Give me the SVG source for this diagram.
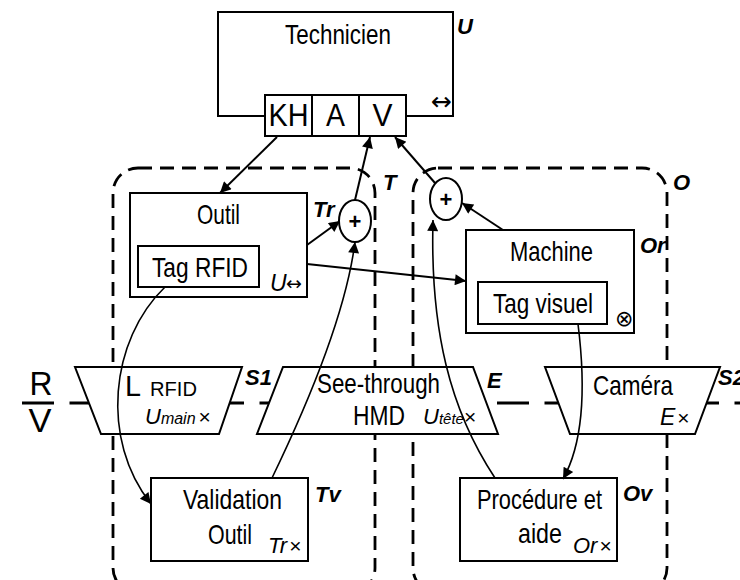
<svg xmlns="http://www.w3.org/2000/svg" width="740" height="580" viewBox="0 0 740 580">
<defs>
<marker id="ah" viewBox="0 0 10 10" refX="10" refY="5" markerWidth="16" markerHeight="11" markerUnits="userSpaceOnUse" orient="auto"><path d="M0,0 L10,5 L0,10 z" fill="#000"/></marker>
<style>
.box{fill:#fff;stroke:#000;stroke-width:2}
.dash{fill:none;stroke:#000;stroke-width:2.8;stroke-dasharray:14 8}
.hd{fill:none;stroke:#000;stroke-width:2.8;stroke-dasharray:32 15.5}
.con{fill:none;stroke:#000;stroke-width:2;marker-end:url(#ah)}
.cur{fill:none;stroke:#000;stroke-width:1.6;marker-end:url(#ah)}
.t{font-family:"Liberation Sans",Arial,sans-serif;font-size:28px;fill:#000}
.c{text-anchor:middle}
.bi{font-family:"Liberation Sans",Arial,sans-serif;font-size:22px;font-weight:bold;font-style:italic;fill:#000}
.it{font-family:"Liberation Sans",Arial,sans-serif;font-style:italic;fill:#000}
.sym{font-family:"DejaVu Sans",sans-serif;fill:#000}
</style>
</defs>
<rect width="740" height="580" fill="#fff"/>
<g id="regions">
<rect class="dash" x="113" y="168" width="262" height="425" rx="25"/>
<rect class="dash" x="413" y="168" width="254" height="425" rx="25"/>
<line class="hd" x1="22" y1="403" x2="740" y2="403"/>
</g>
<g id="technicien">
<path d="M265,116 H218 V12 H453 V116 H406" fill="none" stroke="#000" stroke-width="2"/>
<rect class="box" x="265" y="95" width="141" height="41"/>
<line x1="312" y1="95" x2="312" y2="136" stroke="#000" stroke-width="2"/>
<line x1="359" y1="95" x2="359" y2="136" stroke="#000" stroke-width="2"/>
<text class="t c" x="338" y="44" textLength="106" lengthAdjust="spacingAndGlyphs">Technicien</text>
<text class="t c" x="288.5" y="126" style="font-size:31px" textLength="40" lengthAdjust="spacingAndGlyphs">KH</text>
<text class="t c" x="335.5" y="126" style="font-size:31px" textLength="19" lengthAdjust="spacingAndGlyphs">A</text>
<text class="t c" x="382.5" y="126" style="font-size:31px" textLength="20" lengthAdjust="spacingAndGlyphs">V</text>
<text class="sym" x="431" y="110" style="font-size:25px">↔</text>
<text class="bi" x="457" y="34">U</text>
</g>
<g id="sensors">
<path class="box" d="M75,367 H242 L219,434 H101 Z"/>
<path class="box" d="M283,367 H473 L498,434 H257 Z"/>
<path class="box" d="M545,367 H720 L695,434 H570 Z"/>
<text class="t" x="125" y="396" style="font-size:30px" textLength="16" lengthAdjust="spacingAndGlyphs">L</text>
<text class="t" x="150" y="396" style="font-size:21px" textLength="47" lengthAdjust="spacingAndGlyphs">RFID</text>
<text class="it" x="145" y="424" style="font-size:22px">U<tspan style="font-size:16px">main</tspan><tspan style="font-style:normal;font-size:21px" dx="3">×</tspan></text>
<text class="t c" x="378.5" y="393" textLength="123" lengthAdjust="spacingAndGlyphs">See-through</text>
<text class="t c" x="379" y="425" textLength="52" lengthAdjust="spacingAndGlyphs">HMD</text>
<text class="it" x="423" y="424" style="font-size:22px">U<tspan style="font-size:15px">tête</tspan><tspan style="font-style:normal;font-size:21px">×</tspan></text>
<text class="t c" x="633" y="395" textLength="80" lengthAdjust="spacingAndGlyphs">Caméra</text>
<text class="it" x="660" y="425" style="font-size:23px">E<tspan style="font-style:normal;font-size:21px" dx="2">×</tspan></text>
<text class="bi" x="245" y="385">S1</text>
<text class="bi" x="487" y="388">E</text>
<text class="bi" x="718" y="385">S2</text>
<text class="t c" x="41" y="395" style="font-size:33px" textLength="23" lengthAdjust="spacingAndGlyphs">R</text>
<text class="t c" x="40" y="432" style="font-size:33px" textLength="23" lengthAdjust="spacingAndGlyphs">V</text>
</g>
<g id="outil">
<rect class="box" x="130" y="193" width="177" height="104"/>
<rect class="box" x="138" y="246" width="121" height="41"/>
<text class="t c" x="218.5" y="224" textLength="43" lengthAdjust="spacingAndGlyphs">Outil</text>
<text class="t c" x="200" y="277" textLength="96" lengthAdjust="spacingAndGlyphs">Tag RFID</text>
<text class="it" x="270" y="291" style="font-size:23px">U</text>
<text class="sym" x="286" y="290" style="font-size:19px">↔</text>
<text class="bi" x="313" y="217">Tr</text>
<text class="bi" x="383" y="190">T</text>
</g>
<g id="machine">
<rect class="box" x="466" y="230" width="168" height="103"/>
<rect class="box" x="478" y="282" width="129" height="42"/>
<text class="t c" x="551.5" y="261" textLength="83" lengthAdjust="spacingAndGlyphs">Machine</text>
<text class="t c" x="543" y="313" textLength="100" lengthAdjust="spacingAndGlyphs">Tag visuel</text>
<text class="sym" x="615" y="326" style="font-size:22px">⊗</text>
<text class="bi" x="640" y="253">Or</text>
<text class="bi" x="673" y="190">O</text>
</g>
<g id="validation">
<rect class="box" x="151" y="478" width="157" height="83"/>
<text class="t c" x="232.5" y="509" textLength="99" lengthAdjust="spacingAndGlyphs">Validation</text>
<text class="t c" x="230" y="544" textLength="44" lengthAdjust="spacingAndGlyphs">Outil</text>
<text class="it" x="268" y="553" style="font-size:22px">Tr<tspan style="font-style:normal;font-size:21px" dx="2">×</tspan></text>
<text class="bi" x="315" y="502">Tv</text>
</g>
<g id="procedure">
<rect class="box" x="460" y="478" width="157" height="83"/>
<text class="t c" x="539.5" y="509" textLength="125" lengthAdjust="spacingAndGlyphs">Procédure et</text>
<text class="t c" x="540" y="543" textLength="44" lengthAdjust="spacingAndGlyphs">aide</text>
<text class="it" x="573" y="553" style="font-size:22px">Or<tspan style="font-style:normal;font-size:21px" dx="2">×</tspan></text>
<text class="bi" x="623" y="501">Ov</text>
</g>
<g id="connectors">
<line class="con" x1="277" y1="137" x2="220" y2="193"/>
<line class="con" x1="355" y1="200" x2="370" y2="137"/>
<line class="con" x1="435" y1="183" x2="395" y2="137"/>
<line class="con" x1="307" y1="245" x2="340" y2="221"/>
<line class="con" x1="503" y1="230" x2="462" y2="203"/>
<line class="con" x1="307" y1="264" x2="466" y2="281"/>
<path class="cur" d="M165,287 C110,340 100,440 151,504"/>
<path class="cur" d="M272,478 C300,420 345,320 355,242"/>
<path class="cur" d="M495,478 C450,410 430,330 433,220"/>
<path class="cur" d="M578,324 C585,380 585,440 563,479"/>
</g>
<g id="sum1">
<ellipse class="box" cx="355" cy="221" rx="16" ry="21"/>
<text class="t c" x="355" y="229" style="font-size:22px;font-weight:bold">+</text>
</g>
<g id="sum2">
<ellipse class="box" cx="446" cy="199" rx="16" ry="21"/>
<text class="t c" x="446" y="207" style="font-size:22px;font-weight:bold">+</text>
</g>
</svg>
